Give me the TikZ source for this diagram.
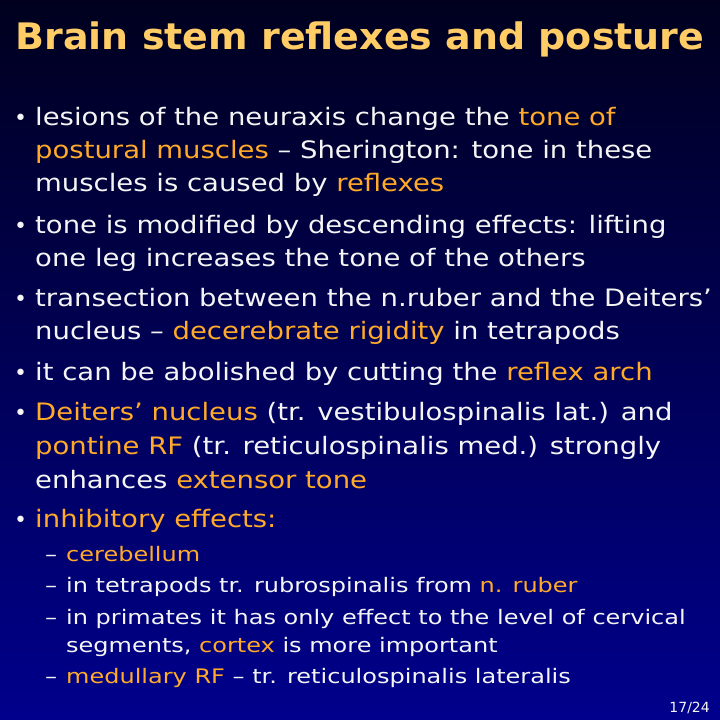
\documentclass[tikz,border=0pt]{standalone}
\usepackage{fontspec}
\setmainfont{DejaVu Sans}
\newfontfamily\wide[FakeStretch=1.145]{DejaVu Sans}
\newfontfamily\widesub[FakeStretch=1.2]{DejaVu Sans}
\newfontfamily\widettl[FakeStretch=1.04]{DejaVu Sans}
\definecolor{ttl}{RGB}{255,204,102}
\definecolor{hl}{RGB}{255,170,40}
\definecolor{tx}{RGB}{245,245,245}
\definecolor{bgtop}{RGB}{0,0,30}
\definecolor{bgbot}{RGB}{0,0,140}
\newcommand{\hi}[1]{\textcolor{hl}{#1}}
\begin{document}
\begin{tikzpicture}[x=1pt,y=1pt,
  ln/.style={anchor=base west,inner sep=0pt,text=tx,font=\wide\fontsize{24}{24}\selectfont},
  sl/.style={anchor=base west,inner sep=0pt,text=tx,font=\widesub\fontsize{20}{20}\selectfont},
  bul/.style={anchor=base west,inner sep=0pt,text=tx,font=\fontsize{22}{22}\selectfont}]
\shade[top color=bgtop,bottom color=bgbot] (0,0) rectangle (720,720);
\useasboundingbox (0,0) rectangle (720,720);
\node[anchor=base,inner sep=0pt,text=ttl,font=\widettl\fontsize{36.5}{36}\selectfont\bfseries] (title) at (360,670) {Brain stem reflexes and posture};
\foreach \y/\n in {594/b1,486/b2,413/b3,339/b4,299/b5,192/b6}{\node[bul] (\n) at (14,\y) {•};}
\node[ln] (l1) at (35,594) {lesions of the neuraxis change the \hi{tone of}};
\node[ln] (l2) at (35,561) {\hi{postural muscles} – Sherington: tone in these};
\node[ln] (l3) at (35,528) {muscles is caused by \hi{reflexes}};
\node[ln] (l4) at (35,486) {tone is modified by descending effects: lifting};
\node[ln] (l5) at (35,453) {one leg increases the tone of the others};
\node[ln] (l6) at (35,413) {transection between the n.ruber and the Deiters’};
\node[ln] (l7) at (35,380) {nucleus – \hi{decerebrate rigidity} in tetrapods};
\node[ln] (l8) at (35,339) {it can be abolished by cutting the \hi{reflex arch}};
\node[ln] (l9) at (35,299) {\hi{Deiters’ nucleus} (tr. vestibulospinalis lat.) and};
\node[ln] (l10) at (35,265) {\hi{pontine RF} (tr. reticulospinalis med.) strongly};
\node[ln] (l11) at (35,231) {enhances \hi{extensor tone}};
\node[ln] (l12) at (35,192) {\hi{inhibitory effects:}};
\foreach \y/\n in {158/d1,127/d2,95/d3,36/d4}{\node[sl] (\n) at (45,\y) {–};}
\node[sl] (s1) at (66,158) {\hi{cerebellum}};
\node[sl] (s2) at (66,127) {in tetrapods tr. rubrospinalis from \hi{n. ruber}};
\node[sl] (s3) at (66,95) {in primates it has only effect to the level of cervical};
\node[sl] (s4) at (66,67) {segments, \hi{cortex} is more important};
\node[sl] (s5) at (66,36) {\hi{medullary RF} – tr. reticulospinalis lateralis};
\node[anchor=base east,inner sep=0pt,text=tx,font=\fontsize{14}{14}\selectfont] (pg) at (710,8) {17/24};
\end{tikzpicture}
\end{document}
